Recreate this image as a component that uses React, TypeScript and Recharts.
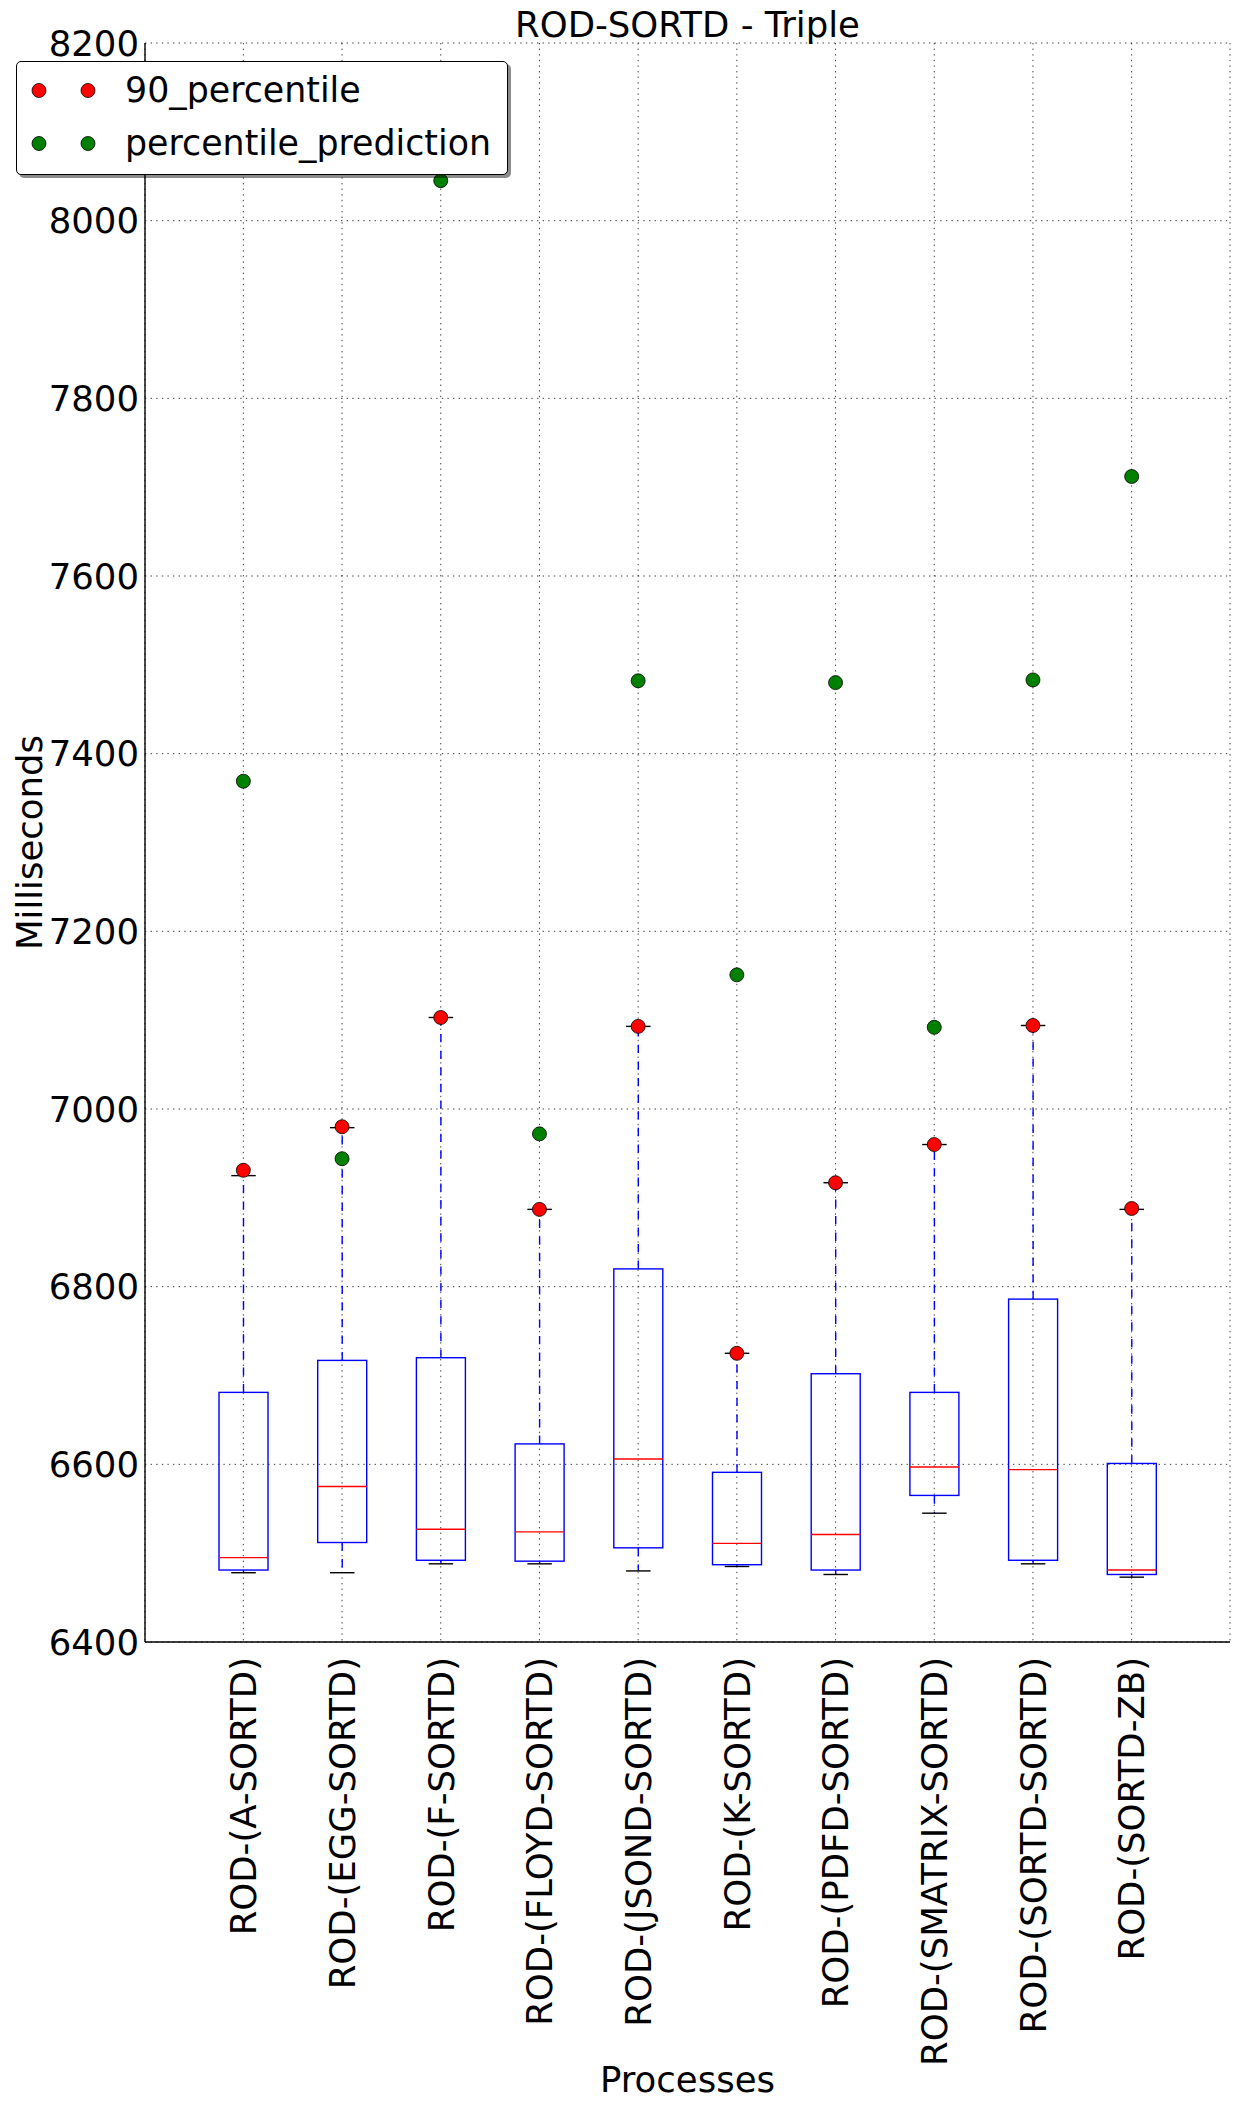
import React from 'react';
import {
  ComposedChart,
  Bar,
  Scatter,
  XAxis,
  YAxis,
  CartesianGrid,
  Legend,
} from 'recharts';

// Process names (x categories)
const processes = [
  'ROD-(A-SORTD)',
  'ROD-(EGG-SORTD)',
  'ROD-(F-SORTD)',
  'ROD-(FLOYD-SORTD)',
  'ROD-(JSOND-SORTD)',
  'ROD-(K-SORTD)',
  'ROD-(PDFD-SORTD)',
  'ROD-(SMATRIX-SORTD)',
  'ROD-(SORTD-SORTD)',
  'ROD-(SORTD-ZB)',
];

// box plot statistics (ms)
const whiskerLow = [6478, 6478, 6488, 6488, 6480, 6485, 6476, 6545, 6488, 6473];
const quartile1 = [6481, 6512, 6492, 6491, 6506, 6487, 6481, 6565, 6492, 6476];
const median = [6495, 6575, 6527, 6524, 6606, 6511, 6521, 6597, 6594, 6481];
const quartile3 = [6681, 6717, 6720, 6623, 6820, 6591, 6702, 6681, 6786, 6601];
const whiskerHigh = [6925, 6979, 7103, 6887, 7093, 6725, 6917, 6960, 7094, 6887];

// marker series
const percentile90 = [6931, 6980, 7103, 6887, 7093, 6725, 6917, 6960, 7094, 6888];
const percentilePrediction = [7369, 6944, 8045, 6972, 7482, 7151, 7480, 7092, 7483, 7712];

const seriesNames = ['90_percentile', 'percentile_prediction'];

const yTicks = [6400, 6600, 6800, 7000, 7200, 7400, 7600, 7800, 8000, 8200];

const data = processes.map((name, i) => ({
  name,
  lo: whiskerLow[i],
  q1: quartile1[i],
  med: median[i],
  q3: quartile3[i],
  hi: whiskerHigh[i],
  p90: percentile90[i],
  pred: percentilePrediction[i],
}));

const FONT = '"DejaVu Sans", sans-serif';
const FS = 35.5;

// one bar spans the whiskers; box, median and caps are placed inside it on the same linear scale
const BoxShape = (props: any) => {
  const { x, y, width, height, payload } = props;
  const top = Math.min(y, y + height);
  const bottom = Math.max(y, y + height);
  const { lo, hi, q1, q3, med } = payload;
  const py = (v: number) => bottom - ((v - lo) / (hi - lo)) * (bottom - top);
  const cx = x + width / 2;
  const cap = width / 4;
  return (
    <g>
      <line x1={cx} x2={cx} y1={py(q3)} y2={py(hi)} stroke="#0000ff" strokeWidth={1.4} strokeDasharray="8.3 8.3" />
      <line x1={cx} x2={cx} y1={py(q1)} y2={py(lo)} stroke="#0000ff" strokeWidth={1.4} strokeDasharray="8.3 8.3" />
      <line x1={cx - cap} x2={cx + cap} y1={py(hi)} y2={py(hi)} stroke="#000" strokeWidth={1.4} />
      <line x1={cx - cap} x2={cx + cap} y1={py(lo)} y2={py(lo)} stroke="#000" strokeWidth={1.4} />
      <rect x={x} y={py(q3)} width={width} height={py(q1) - py(q3)} fill="none" stroke="#0000ff" strokeWidth={1.4} />
      <line x1={x} x2={x + width} y1={py(med)} y2={py(med)} stroke="#ff0000" strokeWidth={1.4} />
    </g>
  );
};

const Dot = (color: string) => (props: any) => (
  <circle cx={props.cx} cy={props.cy} r={7} fill={color} stroke="#000" strokeWidth={0.8} />
);

const XTick = (props: any) => {
  const { x, y, payload } = props;
  return (
    <g transform={`translate(${x},${y})`}>
      <text transform="rotate(-90)" textAnchor="end" dy="0.36em" fontSize={FS} fontFamily={FONT} fill="#000">
        {payload.value}
      </text>
    </g>
  );
};

const renderLegend = (props: any) => {
  const entries = (props.payload || []).filter((e: any) => seriesNames.includes(e.value));
  return (
    <div
      style={{
        width: 492,
        height: 114,
        boxSizing: 'border-box',
        border: '1.4px solid #000',
        borderRadius: 5,
        background: '#fff',
        boxShadow: '3px 3px 0 rgba(0,0,0,0.45)',
        paddingTop: 2,
      }}
    >
      {entries.map((entry: any) => (
        <div key={entry.value} style={{ display: 'flex', alignItems: 'center', height: 53 }}>
          <svg width={108} height={53}>
            <circle cx={22} cy={26.5} r={7} fill={entry.color} stroke="#000" strokeWidth={0.8} />
            <circle cx={71} cy={26.5} r={7} fill={entry.color} stroke="#000" strokeWidth={0.8} />
          </svg>
          <span style={{ fontSize: 34.8, fontFamily: FONT, color: '#000', lineHeight: '53px' }}>{entry.value}</span>
        </div>
      ))}
    </div>
  );
};

export default function App() {
  return (
    <div style={{ position: 'absolute', left: 0, top: 0, width: 1239, height: 2106, background: '#fff' }}>
      <div
        style={{
          position: 'absolute',
          left: 145,
          width: 1085,
          top: 7,
          textAlign: 'center',
          fontFamily: FONT,
          fontSize: FS,
          lineHeight: `${FS}px`,
          color: '#000',
          zIndex: 2,
        }}
      >
        ROD-SORTD - Triple
      </div>
      <ComposedChart width={1239} height={2106} data={data} margin={{ top: 43, right: 9, bottom: 0, left: 0 }}>
        <CartesianGrid stroke="#000" strokeOpacity={0.75} strokeDasharray="1.4 4.2" strokeWidth={1} />
        <XAxis
          dataKey="name"
          type="category"
          interval={0}
          padding={{ left: 49, right: 49 }}
          height={464}
          tickLine={false}
          tickMargin={9}
          tick={<XTick />}
          axisLine={{ stroke: '#000', strokeWidth: 1.4 }}
          label={{ value: 'Processes', position: 'insideBottom', offset: 14, fill: '#000', fontSize: FS, fontFamily: FONT }}
        />
        <XAxis
          xAxisId="top"
          orientation="top"
          dataKey="name"
          height={0}
          tick={false}
          tickLine={false}
          axisLine={{ stroke: '#000', strokeWidth: 1.4 }}
        />
        <YAxis
          type="number"
          domain={[6400, 8200]}
          ticks={yTicks}
          interval={0}
          width={145}
          tickLine={false}
          tickMargin={0}
          allowDataOverflow
          axisLine={{ stroke: '#000', strokeWidth: 1.4 }}
          tick={{ fontSize: FS, fill: '#000', fontFamily: FONT }}
          label={{
            value: 'Milliseconds',
            angle: -90,
            position: 'insideLeft',
            offset: 29,
            fill: '#000',
            fontSize: FS,
            fontFamily: FONT,
            style: { textAnchor: 'middle' },
          }}
        />
        <YAxis
          yAxisId="right"
          orientation="right"
          type="number"
          domain={[6400, 8200]}
          width={0}
          tick={false}
          tickLine={false}
          axisLine={{ stroke: '#000', strokeWidth: 1.4 }}
        />
        <Bar
          dataKey={(d: any) => [d.lo, d.hi]}
          barSize={49}
          shape={BoxShape}
          legendType="none"
          isAnimationActive={false}
        />
        <Scatter name="90_percentile" dataKey="p90" fill="#ff0000" shape={Dot('#ff0000')} isAnimationActive={false} />
        <Scatter
          name="percentile_prediction"
          dataKey="pred"
          fill="#008000"
          shape={Dot('#008000')}
          isAnimationActive={false}
        />
        <Legend
          layout="vertical"
          align="center"
          verticalAlign="middle"
          content={renderLegend}
          wrapperStyle={{ left: 16, top: 61, width: 492, height: 114 }}
        />
      </ComposedChart>
    </div>
  );
}
